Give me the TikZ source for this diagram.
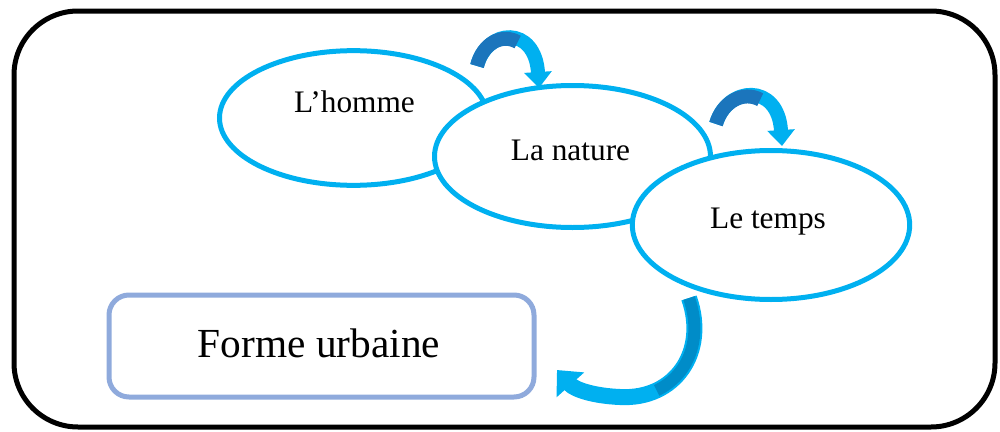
\documentclass[tikz,border=0pt]{standalone}
\usepackage{fontspec}
\setmainfont{Liberation Serif}
\usetikzlibrary{shapes.geometric,arrows.meta}
\definecolor{cyanc}{RGB}{0,176,240}
\definecolor{darka}{RGB}{27,117,188}
\definecolor{darkb}{RGB}{0,140,200}
\definecolor{boxc}{RGB}{143,170,220}
\tikzset{
  ell/.style={ellipse, draw=cyanc, fill=white, line width=3.75pt, inner sep=0pt},
  lbl/.style={anchor=base, inner sep=0pt, font=\fontsize{23.5pt}{28pt}\selectfont},
  bigbox/.style={rectangle, draw=boxc, line width=3.75pt, rounded corners=15pt, inner sep=0pt},
  biglbl/.style={anchor=base, inner sep=0pt, font=\fontsize{31pt}{36pt}\selectfont},
  arrowc/.style={draw=cyanc},
}
\begin{document}
\begin{tikzpicture}[x=0.75pt,y=-0.75pt]
\useasboundingbox (0,0) rectangle (1000,432);
% outer frame
\draw[line width=3.75pt, rounded corners=48pt] (14,11) rectangle (995,427);
% ellipses
\node (homme) [ell, minimum width=201pt, minimum height=101pt] at (353.5,118) {};
\node (nature) [ell, minimum width=207pt, minimum height=106.5pt] at (572.5,156.5) {};
\node (temps) [ell, minimum width=208pt, minimum height=111.75pt] at (771,225) {};
\node (hommet) [lbl] at (354.5,112) {L’homme};
\node (naturet) [lbl] at (570.5,160) {La nature};
\node (tempst) [lbl] at (768,228) {Le temps};
% forme urbaine box
\node (forme) [bigbox, minimum width=318.75pt, minimum height=76.5pt] at (321.5,346) {};
\node (formet) [biglbl] at (319,357) {Forme urbaine};
% connector coordinates
\coordinate (a1s) at (477,66);
\coordinate (a1e) at (539,88);
\coordinate (a2s) at (716,124);
\coordinate (a2e) at (782,146);
\coordinate (a3s) at (689,298);
\coordinate (a3e) at (557,370);
% arrow 1
\draw[arrowc, line width=10.5pt, -{Triangle[length=12pt,width=20pt,fill=cyanc]}]
  (a1s) .. controls (487,28) and (535,25) .. (a1e);
\draw[draw=darka, line width=10.5pt] (a1s) .. controls (482.6,43.2) and (502.2,33) .. (517.6,42.1);
% arrow 2
\draw[arrowc, line width=10.5pt, -{Triangle[length=12pt,width=20pt,fill=cyanc]}]
  (a2s) .. controls (727,86) and (778,82) .. (a2e);
\draw[draw=darka, line width=10.5pt] (a2s) .. controls (722.6,101.2) and (743.6,90.6) .. (760.2,99.7);
% arrow 3
\draw[arrowc, line width=12pt, -{Triangle[length=15pt,width=27pt,fill=cyanc]}]
  (a3s) .. controls (708,352) and (675,400) .. (620,397) .. controls (595,396) and (575,390) .. (a3e);
\draw[draw=darkb, line width=9pt] (a3s) .. controls (703.25,338.5) and (688.25,375.6) .. (656.6,390.4);
\end{tikzpicture}
\end{document}
